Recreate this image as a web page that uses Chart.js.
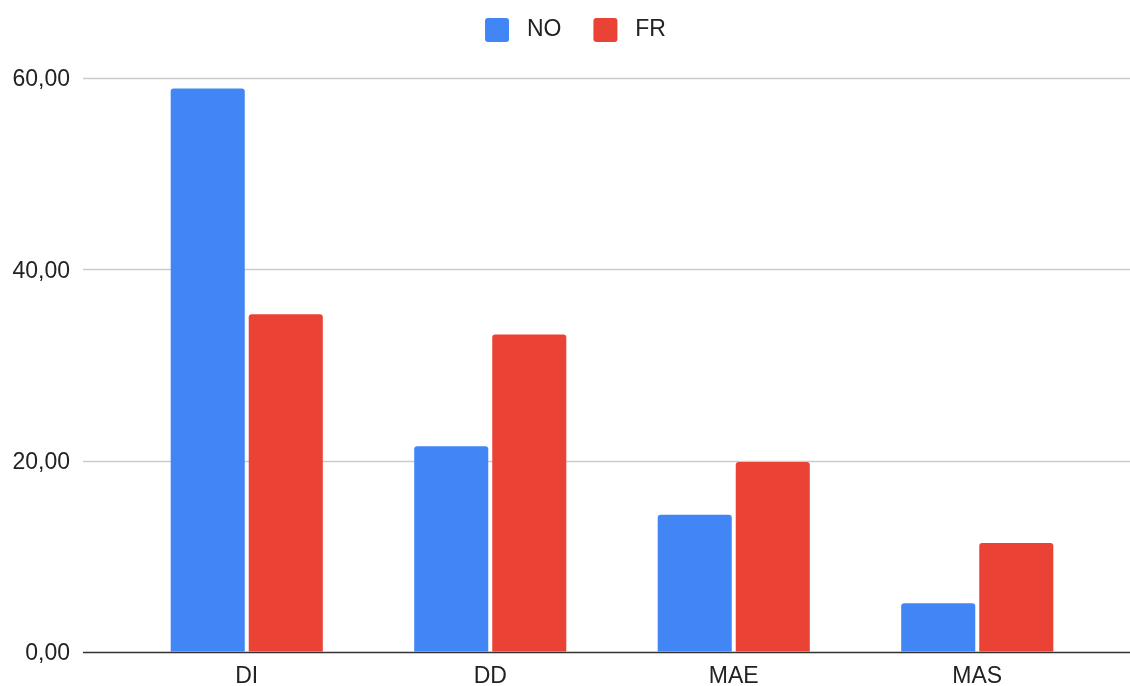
<!DOCTYPE html>
<html>
<head>
<meta charset="utf-8">
<script src="https://cdn.jsdelivr.net/npm/chart.js@4"></script>
<style>
  html, body { margin: 0; padding: 0; background: #fff; }
  canvas { display: block; }
</style>
</head>
<body>
<canvas id="myChart" width="1130" height="686"></canvas>
<script>
const categories = ['DI', 'DD', 'MAE', 'MAS'];
const seriesNames = ['NO', 'FR'];
const noValues = [58.9, 21.5, 14.35, 5.1];
const frValues = [35.3, 33.2, 19.85, 11.4];
const yTicks = [0, 20, 40, 60];

const fontFamily = '"Liberation Sans", Arial, sans-serif';

// grid lines run wider than the category band, like the sheet chart
const gridPlugin = {
  id: 'wideGrid',
  beforeInit(chart) {
    // fixed legend band height so the plot starts where the sheet's does
    const lg = chart.legend;
    const origFit = lg.fit.bind(lg);
    lg.fit = function () { origFit(); this.height = 78; };
  },
  afterLayout(chart) {
    const lg = chart.legend;
    lg.top -= 14;
    lg.left += 26;
    lg.right += 26;
  },
  beforeDatasetsDraw(chart) {
    const ctx = chart.ctx;
    const y = chart.scales.y;
    ctx.save();
    ctx.strokeStyle = '#cccccc';
    ctx.lineWidth = 1.5;
    yTicks.forEach(t => {
      if (t === 0) return;
      const py = Math.round(y.getPixelForValue(t)) + 0.5;
      ctx.beginPath();
      ctx.moveTo(83, py);
      ctx.lineTo(chart.width, py);
      ctx.stroke();
    });
    ctx.restore();
  },
  afterDatasetsDraw(chart) {
    const ctx = chart.ctx;
    const py = Math.round(chart.scales.y.getPixelForValue(0)) + 0.5;
    ctx.save();
    ctx.strokeStyle = '#333333';
    ctx.lineWidth = 1.5;
    ctx.beginPath();
    ctx.moveTo(83, py);
    ctx.lineTo(chart.width, py);
    ctx.stroke();
    ctx.restore();
  }
};

new Chart(document.getElementById('myChart').getContext('2d'), {
  type: 'bar',
  data: {
    labels: categories,
    datasets: [
      {
        label: ' ' + seriesNames[0],
        data: noValues,
        backgroundColor: '#4285F4',
        borderRadius: { topLeft: 3, topRight: 3 },
        borderSkipped: false
      },
      {
        label: ' ' + seriesNames[1],
        data: frValues,
        backgroundColor: '#EA4335',
        borderRadius: { topLeft: 3, topRight: 3 },
        borderSkipped: false
      }
    ]
  },
  options: {
    responsive: false,
    animation: false,
    categoryPercentage: 0.641,
    barPercentage: 0.949,
    layout: { padding: { left: 0, right: 31, top: 0, bottom: 0 } },
    plugins: {
      tooltip: { enabled: false },
      legend: {
        position: 'top',
        labels: {
          boxWidth: 24,
          boxHeight: 24,
          padding: 32,
          color: '#222',
          font: { family: fontFamily, size: 23 },
          useBorderRadius: true,
          borderRadius: 3
        }
      }
    },
    scales: {
      x: {
        afterFit(scale) { scale.height = 34; },
        grid: { display: false, drawTicks: false },
        border: { display: false },
        ticks: {
          color: '#222',
          padding: 11,
          font: { family: fontFamily, size: 23, lineHeight: 1.2 }
        }
      },
      y: {
        min: 0,
        max: 60,
        afterFit(scale) { scale.width = 125; },
        afterBuildTicks(scale) { scale.ticks = yTicks.map(v => ({ value: v })); },
        grid: {
          display: true,
          drawOnChartArea: false,
          drawTicks: true,
          tickLength: 50,
          color: 'rgba(0,0,0,0)'
        },
        border: { display: false },
        ticks: {
          color: '#222',
          padding: 5,
          labelOffset: 2,
          font: { family: fontFamily, size: 23 },
          callback: v => v.toFixed(2).replace('.', ',')
        }
      }
    }
  },
  plugins: [gridPlugin]
});
</script>
</body>
</html>
